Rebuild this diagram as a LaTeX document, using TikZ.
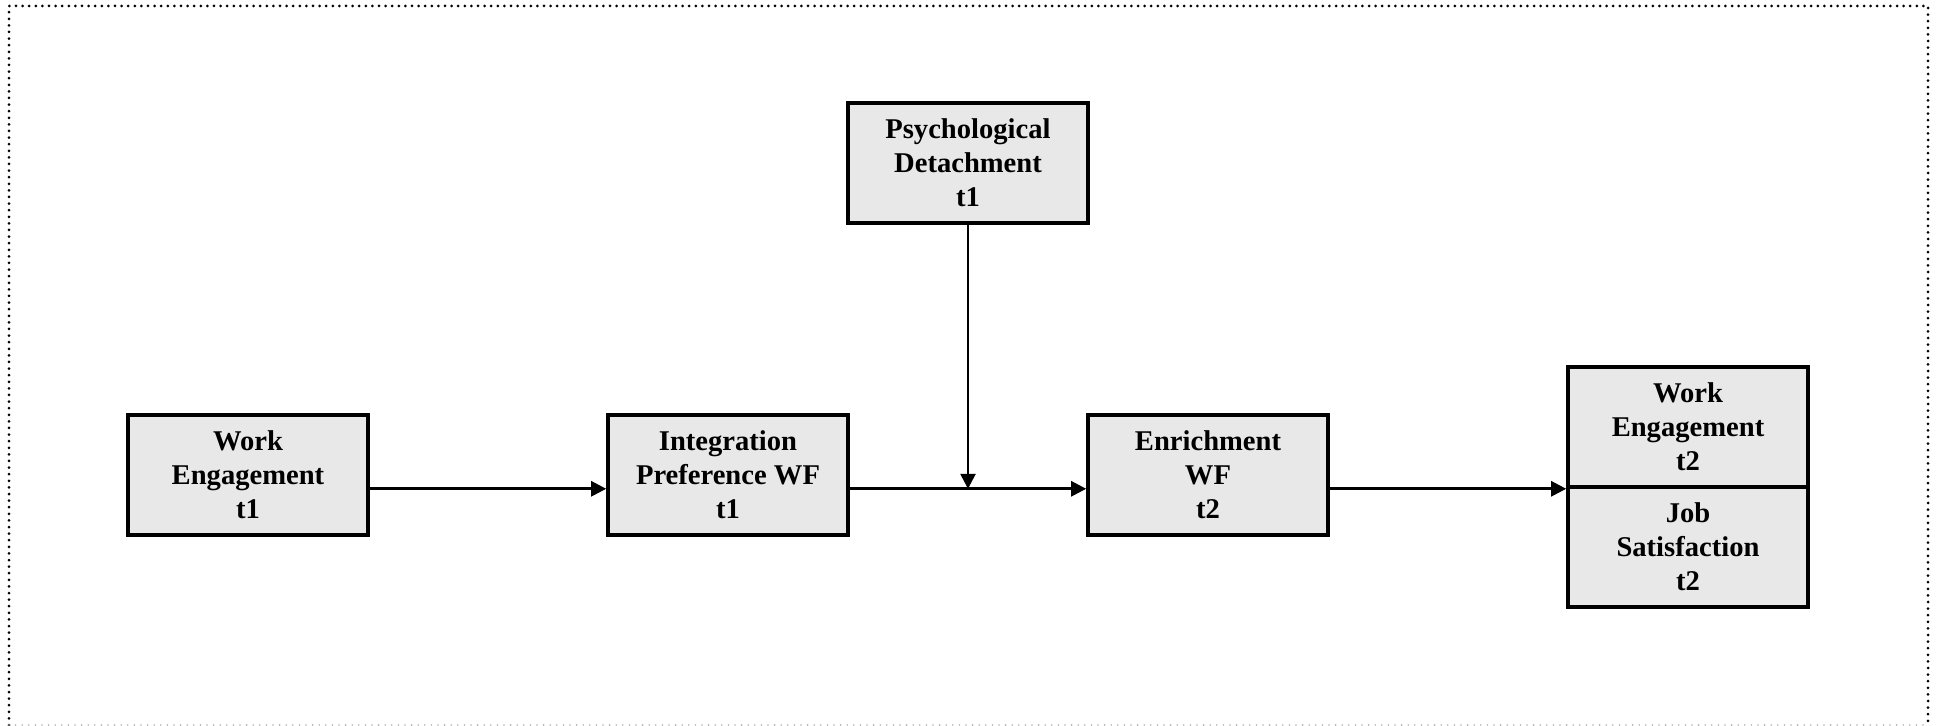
\documentclass[tikz,border=0pt]{standalone}
\usepackage{fontspec}
\setmainfont{Liberation Serif}
\usetikzlibrary{arrows.meta}
\tikzset{var/.style = {draw, fill=black!9, line width=1.8pt, minimum width=120pt, minimum height=60pt, inner sep=0, align=center, font=\fontsize{14.3}{17}\selectfont\bfseries, execute at begin node={\rule{0pt}{13.5pt}}}}
\tikzset{link/.style = {line width=1.3pt, -{Triangle[length=7.5pt, width=7.5pt]}}}
\tikzset{frame/.style = {line width=1.5pt, line cap=round, dash pattern=on 0pt off 3.3pt}}

\begin{document}
\begin{tikzpicture}[x=0.5pt, y=-0.5pt]
    \useasboundingbox (0, 0) rectangle (1937, 726);
    \draw [frame] (9, 725) -- (9, 6) -- (1928, 6) -- (1928, 725);
    \draw [frame, gray!60, line width=0.9pt] (9, 725) -- (1928, 725);

    \node [var] (we1) at (248, 475) {Work\\Engagement\\t1};
    \node [var] (ipwf) at (728, 475) {Integration\\Preference WF\\t1};
    \node [var] (pd) at (968, 163) {Psychological\\Detachment\\t1};
    \node [var] (enr) at (1208, 475) {Enrichment\\WF\\t2};
    \node [var] (we2) at (1688, 427) {Work\\Engagement\\t2};
    \node [var] (js) at (1688, 547) {Job\\Satisfaction\\t2};

    % arrows run on the level of the split in the outcome box
    \coordinate (axis) at (we2.south west);
    \coordinate (mod) at (pd.south |- axis);

    \draw [link] (we1.east |- axis) -- (ipwf.west |- axis);
    \draw [link] (ipwf.east |- axis) -- (enr.west |- axis);
    \draw [link] (pd.south) -- (mod);
    \draw [link] (enr.east |- axis) -- (axis);
\end{tikzpicture}
\end{document}
